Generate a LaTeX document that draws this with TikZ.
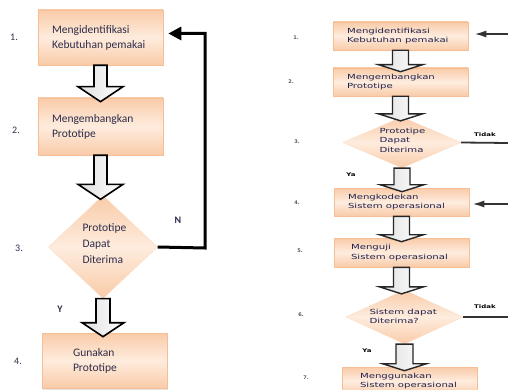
\documentclass[tikz,border=0pt]{standalone}
\usepackage{fontspec}
\usepackage{graphicx}
\setmainfont{Carlito}
\newfontfamily\rfont{DejaVu Sans}
\usetikzlibrary{shapes.geometric,arrows.meta,calc,shadows}
\definecolor{peach}{RGB}{249,203,168}
\definecolor{peachlight}{RGB}{254,236,222}
\definecolor{peachline}{RGB}{246,190,148}
\definecolor{txt}{RGB}{45,45,75}
\definecolor{rtxtc}{RGB}{30,35,80}
\newcommand\rtxt[1]{\scalebox{1.45}[1]{\rfont\fontsize{7}{9.5}\selectfont\begin{tabular}{@{}l@{}}#1\end{tabular}}}
\newcommand\rsmall[1]{\scalebox{1.4}[1]{\rfont\fontsize{5}{6}\selectfont #1}}
\newcommand\blockarr[6]{%
  \path[#1] let \p1=(#2.south), \p2=([yshift=-4pt]#3.north) in
   (\x1-#4,\y1) -- (\x1-#4,\y2+#6) -- (\x1-#5,\y2+#6) -- (\x1,\y2)
   -- (\x1+#5,\y2+#6) -- (\x1+#4,\y2+#6) -- (\x1+#4,\y1) -- cycle;}
\tikzset{
  peachfill/.style={top color=peach, bottom color=peach, middle color=peachlight},
  lbox/.style={rectangle, peachfill, draw=peachline, line width=0.6pt,
    minimum width=125pt, minimum height=55pt, inner xsep=14pt, text width=97pt,
    align=flush left, text=txt, font=\fontsize{11.5}{15}\selectfont,
    drop shadow={shadow xshift=1pt, shadow yshift=-1.5pt, opacity=0.2}},
  rbox/.style={rectangle, peachfill, draw=peachline, line width=0.6pt,
    minimum width=135pt, minimum height=28pt, inner xsep=14pt, text width=107pt,
    align=flush left, text=rtxtc, inner ysep=0pt,
    drop shadow={shadow xshift=0.8pt, shadow yshift=-1pt, opacity=0.15}},
  dia/.style={diamond, peachfill, draw=peachline!60, line width=0.3pt, inner sep=0pt},
  harrow/.style={draw=black, line width=1.6pt, line join=miter, left color=gray!25, right color=white},
  harrowr/.style={draw=black!85, line width=1.4pt, line join=miter, left color=gray!25, right color=white},
  num/.style={text=txt, font=\fontsize{10}{12}\selectfont},
  rnum/.style={text=black!65, font=\rfont\bfseries\fontsize{5}{6}\selectfont},
  yn/.style={text=txt, font=\bfseries\fontsize{10}{12}\selectfont},
  fb/.style={line width=3pt, -{Triangle[length=13pt,width=13pt]}},
  rline/.style={draw=black!80, line width=1.8pt},
}
\begin{document}
\begin{tikzpicture}[x=1pt,y=-1pt]
\useasboundingbox (0,0) rectangle (508,390);
% ---------- left diagram ----------
\node[lbox] (L1) at (100.5,37.5) {Mengidentifikasi\\Kebutuhan pemakai};
\node[lbox, minimum height=57pt] (L2) at (100.5,126.5) {Mengembangkan\\Prototipe};
\node[dia, minimum width=109pt, minimum height=103pt] (L3) at (103,247) {};
\node[text=txt, align=left, font=\fontsize{11.5}{16}\selectfont, anchor=west] (L3t) at (79,244) {Prototipe\\Dapat\\Diterima};
\node[lbox, inner xsep=31pt, text width=63pt] (L4) at (104.5,360.5) {Gunakan\\Prototipe};
\blockarr{harrow}{L1}{L2}{6.5pt}{22.5pt}{15pt}
\blockarr{harrow}{L2}{L3}{6.5pt}{22.5pt}{15pt}
\blockarr{harrow}{L3}{L4}{7pt}{21pt}{14pt}
\coordinate (Lc) at (205,248);
\draw[fb] (L3.east) -- (Lc) |- ([xshift=5pt,yshift=4pt]L1.east);
\node[num] (n1) at (14,37) {1.};
\node[num] (n2) at (16,130) {2.};
\node[num] (n3) at (19,248) {3.};
\node[num] (n4) at (18,361) {4.};
\node[yn] (lN) at (178,220) {N};
\node[yn] (lY) at (60,309) {Y};
% ---------- right diagram ----------
\node[rbox] (R1) at (400.5,36) {\rtxt{Mengidentifikasi\\Kebutuhan pemakai}};
\node[rbox] (R2) at (400.5,82) {\rtxt{Mengembangkan\\Prototipe}};
\node[dia, minimum width=118pt, minimum height=51pt] (R3) at (402,142.5) {};
\node[anchor=west, text=rtxtc] (R3t) at (376,141) {\rtxt{Prototipe\\Dapat\\Diterima}};
\node[rbox] (R4) at (401.5,202) {\rtxt{Mengkodekan\\Sistem operasional}};
\node[rbox, minimum height=29pt, inner xsep=17pt, text width=101pt] (R5) at (401.5,252.5) {\rtxt{Menguji\\Sistem operasional}};
\node[dia, minimum width=117pt, minimum height=54pt] (R6) at (404.5,317) {};
\node[anchor=west, text=rtxtc] (R6t) at (366,317) {\rtxt{Sistem dapat\\Diterima?}};
\node[rbox, inner xsep=18pt, text width=99pt] (R7) at (409.5,381) {\rtxt{Menggunakan\\Sistem operasional}};
\blockarr{harrowr}{R1}{R2}{8pt}{22pt}{7pt}
\blockarr{harrowr}{R2}{R3}{8pt}{22pt}{7pt}
\blockarr{harrowr}{R3}{R4}{8pt}{22pt}{7pt}
\blockarr{harrowr}{R4}{R5}{8pt}{22pt}{7pt}
\blockarr{harrowr}{R5}{R6}{8pt}{22pt}{7pt}
\blockarr{harrowr}{R6}{R7}{8.5pt}{22pt}{7pt}
\coordinate (E1) at (508,34);
\coordinate (E3) at (508,143);
\coordinate (E4) at (508,204);
\coordinate (E6) at (508,317);
\draw[rline, -{Latex[length=12pt,width=7pt]}] (E1) -- ([xshift=6pt,yshift=2pt]R1.east);
\draw[rline, -{Latex[length=12pt,width=7pt]}] (E4) -- ([xshift=3pt,yshift=-2pt]R4.east);
\draw[rline] (R3.east) -- (E3);
\draw[rline] (R6.east) -- (E6);
\node[rnum] (m1) at (296,38) {1.};
\node[rnum] (m2) at (291,82) {2.};
\node[rnum] (m3) at (297,142) {3.};
\node[rnum] (m4) at (297,203) {4.};
\node[rnum] (m5) at (300,251) {5.};
\node[rnum] (m6) at (301,315) {6.};
\node[rnum] (m7) at (306,378) {7.};
\node[text=black] (t3) at (485,135) {\rsmall{\bfseries Tidak}};
\node[text=black] (t6) at (485,307) {\rsmall{\bfseries Tidak}};
\node[text=black] (y3) at (351,175) {\rsmall{\bfseries Ya}};
\node[text=black] (y6) at (367,351) {\rsmall{\bfseries Ya}};
\end{tikzpicture}
\end{document}
